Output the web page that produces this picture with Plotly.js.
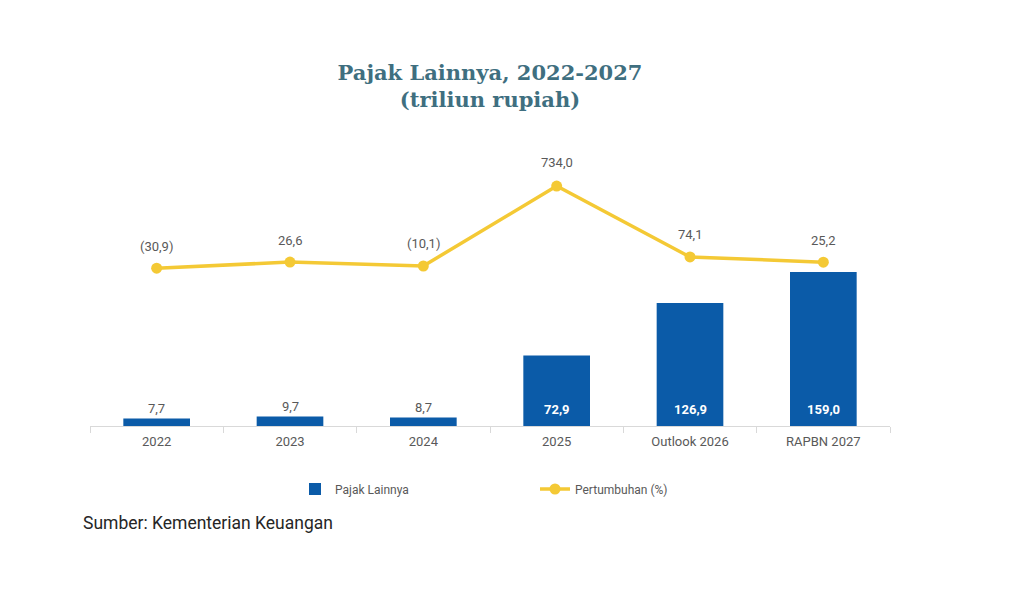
<!DOCTYPE html>
<html>
<head>
<meta charset="utf-8">
<script src="https://cdn.plot.ly/plotly-3.0.1.min.js"></script>
<style>html,body{margin:0;padding:0;background:#fff;}#chart{width:1024px;height:597px;}</style>
</head>
<body>
<div id="chart"></div>
<script>
const categories = ["2022", "2023", "2024", "2025", "Outlook 2026", "RAPBN 2027"];
const pajakLainnya = [7.7, 9.7, 8.7, 72.9, 126.9, 159.0];
const pertumbuhan = [-30.9, 26.6, -10.1, 734.0, 74.1, 25.2];

const fmt = v => {
  const s = Math.abs(v).toFixed(1).replace('.', ',');
  return v < 0 ? '(' + s + ')' : s;
};
const labelFont = {color: '#595959', size: 13, family: 'Roboto, Arial, sans-serif'};

const barTrace = {
  type: 'bar',
  name: 'Pajak Lainnya',
  x: categories,
  y: pajakLainnya,
  marker: {color: '#0b5ba8'},
  width: 0.5,
  hoverinfo: 'x+y'
};

const lineTrace = {
  type: 'scatter',
  mode: 'lines+markers',
  name: 'Pertumbuhan (%)',
  x: categories,
  y: pertumbuhan,
  yaxis: 'y2',
  line: {color: '#f4c935', width: 3.5},
  marker: {color: '#f4c935', size: 11},
  cliponaxis: false
};

const annotations = [];
// bar value labels (x given as category index on the category axis)
categories.forEach((c, i) => {
  const v = pajakLainnya[i];
  const inside = v > 30;
  annotations.push({
    x: i, y: inside ? 0 : v, xref: 'x', yref: 'y',
    text: inside ? '<b>' + fmt(v) + '</b>' : fmt(v),
    showarrow: false,
    yanchor: 'middle',
    yshift: inside ? 17 : 10,
    font: inside ? {color: '#ffffff', size: 13, family: 'Roboto, Arial, sans-serif'} : labelFont
  });
});
// growth labels
categories.forEach((c, i) => {
  const v = pertumbuhan[i];
  annotations.push({
    x: i, y: v, xref: 'x', yref: 'y2',
    text: fmt(v),
    showarrow: false,
    yanchor: 'middle',
    yshift: v > 500 ? 24 : 22,
    font: labelFont
  });
});
annotations.push({
  text: 'Sumber: Kementerian Keuangan',
  xref: 'paper', yref: 'paper',
  x: (81 - 90) / 800, y: -(523 - 426) / (426 - 140),
  xanchor: 'left', yanchor: 'middle',
  showarrow: false,
  font: {family: 'Roboto, Arial, sans-serif', size: 17.5, color: '#262626'}
});

const layout = {
  width: 1024,
  height: 597,
  paper_bgcolor: '#ffffff',
  plot_bgcolor: '#ffffff',
  margin: {l: 90, r: 134, t: 140, b: 171},
  showlegend: true,
  title: {
    text: 'Pajak Lainnya, 2022-2027<br>(triliun rupiah)',
    font: {family: '"DejaVu Serif", serif', size: 21, color: '#3f6f80', weight: 'bold'},
    x: 0.5, xanchor: 'center', xref: 'paper',
    y: 1 - 80 / 597, yanchor: 'middle', yref: 'container'
  },
  xaxis: {
    type: 'category',
    range: [-0.5, 5.5],
    showgrid: false,
    showline: true,
    linecolor: '#d9d9d9',
    linewidth: 1,
    ticks: 'outside',
    tickcolor: '#d9d9d9',
    ticklen: 6,
    tickson: 'boundaries',
    ticklabelstandoff: 3,
    tickangle: 0,
    tickfont: {color: '#595959', size: 13, family: 'Roboto, Arial, sans-serif'},
    zeroline: false
  },
  yaxis: {
    range: [0, 295.3],
    visible: false,
    showgrid: false,
    zeroline: false
  },
  yaxis2: {
    range: [-1500, 1163],
    overlaying: 'y',
    side: 'right',
    visible: false,
    showgrid: false,
    zeroline: false
  },
  legend: {
    orientation: 'h',
    x: 0.265 - 7 / 800, xanchor: 'left', xref: 'paper',
    y: 1 - 489 / 597, yanchor: 'middle', yref: 'container',
    entrywidth: 195, entrywidthmode: 'pixels',
    font: {color: '#595959', size: 12, family: 'Roboto, Arial, sans-serif'},
    bgcolor: 'rgba(0,0,0,0)'
  },
  annotations: annotations
};

Plotly.newPlot('chart', [barTrace, lineTrace], layout, {displayModeBar: false, staticPlot: true});
</script>
</body>
</html>
